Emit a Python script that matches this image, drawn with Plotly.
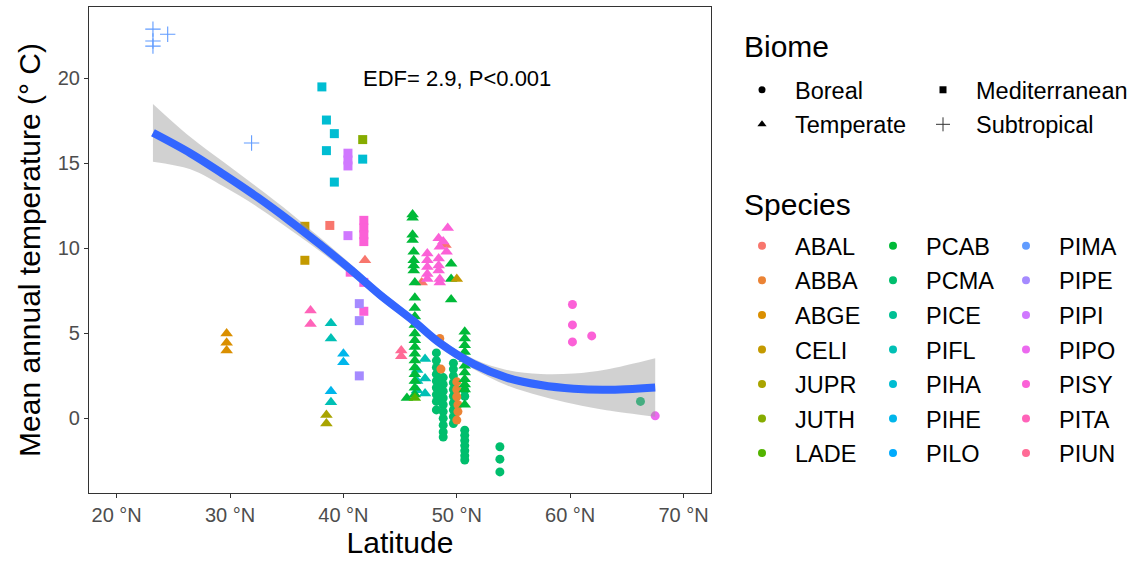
import math
import plotly.graph_objects as go

# ---------------- data ----------------
SPECIES = ["ABAL", "ABBA", "ABGE", "CELI", "JUPR", "JUTH", "LADE",
           "PCAB", "PCMA", "PICE", "PIFL", "PIHA", "PIHE", "PILO",
           "PIMA", "PIPE", "PIPI", "PIPO", "PISY", "PITA", "PIUN"]
BIOMES = ["Boreal", "Mediterranean", "Temperate", "Subtropical"]

# Subtropical
PIMA_sub_lat = [23.2, 23.2, 23.2, 24.5, 31.9]
PIMA_sub_temp = [22.9, 22.2, 21.9, 22.6, 16.2]

# Mediterranean
PIHA_med_lat = [38.1, 38.5, 39.2, 38.5, 41.7, 39.2]
PIHA_med_temp = [19.5, 17.55, 16.75, 15.75, 15.25, 13.9]
JUTH_med_lat = [41.7]
JUTH_med_temp = [16.4]
PIPI_med_lat = [40.4, 40.4, 40.4, 40.4]
PIPI_med_temp = [15.6, 15.2, 14.85, 10.75]
CELI_med_lat = [36.6, 36.6]
CELI_med_temp = [11.3, 9.3]
ABAL_med_lat = [38.8]
ABAL_med_temp = [11.35]
PISY_med_lat = [41.8, 41.8, 41.8, 41.8, 40.6, 41.8, 41.8]
PISY_med_temp = [11.65, 11.2, 10.8, 10.4, 8.6, 8.0, 6.3]
PIPE_med_lat = [41.4, 41.4, 41.4]
PIPE_med_temp = [6.75, 5.75, 2.5]

# Temperate
ABGE_tem_lat = [29.7, 29.7, 29.7]
ABGE_tem_temp = [5.0, 4.45, 4.0]
PITA_tem_lat = [37.1, 37.1]
PITA_tem_temp = [6.35, 5.55]
PIFL_tem_lat = [38.9, 38.9, 38.9, 47.2, 47.2, 47.2, 46.5, 46.5, 46.5]
PIFL_tem_temp = [5.6, 4.7, 0.95, 3.5, 2.35, 1.47, 2.84, 2.2, 1.66]
PIHE_tem_lat = [40.0, 40.0, 38.9]
PIHE_tem_temp = [3.8, 3.3, 1.6]
JUPR_tem_lat = [38.5, 38.5]
JUPR_tem_temp = [0.2, -0.3]
ABAL_tem_lat = [41.9, 46.9, 49.0]
ABAL_tem_temp = [9.3, 8.0, 10.2]
PCAB_tem_lat = [46.1, 46.1, 46.1, 46.1, 46.2, 46.2, 46.2, 46.2, 46.3, 46.3,
                46.3, 46.3, 46.3, 46.3, 46.3, 46.3, 46.3, 46.3, 46.3, 46.3,
                46.3, 46.3, 46.3, 45.6,
                49.5, 49.5, 49.5,
                50.7, 50.7, 50.7, 50.7, 50.7, 50.7, 50.7, 50.7, 50.7, 50.7, 50.7]
PCAB_tem_temp = [12.0, 11.8, 10.8, 10.5, 9.8, 9.3, 9.0, 8.7, 8.0, 7.1,
                 6.5, 6.0, 5.5, 5.0, 4.6, 4.2, 3.8, 3.4, 3.0, 2.6,
                 2.2, 1.8, 1.4, 1.2,
                 9.1, 8.2, 7.0,
                 5.1, 4.7, 4.3, 3.9, 3.5, 3.1, 2.7, 2.3, 2.0, 1.7, 0.8]
PISY_tem_lat = [49.2, 48.4, 48.8, 48.5, 49.1, 47.4, 47.4, 47.4, 47.4,
                48.4, 48.4, 48.4, 48.5, 48.5, 47.4]
PISY_tem_temp = [11.2, 10.6, 10.4, 10.1, 9.8, 9.7, 9.3, 8.9, 8.5,
                 9.4, 9.0, 8.7, 8.2, 8.0, 8.2]
CELI_tem_lat = [50.0]
CELI_tem_temp = [8.2]
PIUN_tem_lat = [45.1, 45.1]
PIUN_tem_temp = [4.0, 3.65]
LADE_tem_lat = [46.3]
LADE_tem_temp = [1.2]

# Boreal
PCMA_bor_lat = [48.2] * 9 + [48.8] * 10 + [49.7] * 10 + [50.7] * 9 + [53.8] * 3 + [66.2]
PCMA_bor_temp = [3.85, 3.4, 3.0, 2.6, 2.2, 1.8, 1.4, 1.0, 0.5,
                 2.4, 2.0, 1.6, 1.2, 0.8, 0.4, 0.0, -0.4, -0.8, -1.1,
                 3.25, 2.9, 2.5, 2.1, 1.7, 1.3, 0.9, 0.5, 0.1, -0.3,
                 1.66, 1.3, -0.7, -1.0, -1.3, -1.6, -1.9, -2.2, -2.45,
                 -1.67, -2.4, -3.15,
                 1.0]
ABBA_bor_lat = [48.5, 48.6, 50.0, 50.0, 50.0, 50.1, 50.1, 50.0]
ABBA_bor_temp = [4.7, 2.9, 2.15, 1.7, 1.27, 0.8, 0.4, -0.1]
PISY_bor_lat = [60.2, 60.2, 60.2, 61.9]
PISY_bor_temp = [6.7, 5.5, 4.5, 4.85]
PIPO_bor_lat = [67.5]
PIPO_bor_temp = [0.15]

# GAM smoother (fit and 95% band half-width)
smooth_lat = [23.2, 26.5, 29.4, 32.4, 35.3, 37.9, 40.6, 43.2, 46.2, 48.5,
              51.5, 54.4, 57.4, 60.3, 63.2, 67.5]
smooth_fit = [16.8, 15.6, 14.37, 13.02, 11.6, 10.25, 8.78, 7.28, 5.72, 4.43,
              3.19, 2.4, 1.96, 1.74, 1.68, 1.82]
smooth_se = [1.7, 0.95, 0.72, 0.58, 0.5, 0.4, 0.32, 0.28, 0.27, 0.28,
             0.3, 0.45, 0.65, 0.9, 1.2, 1.72]

x_ticks = [20, 30, 40, 50, 60, 70]
x_ticktext = ["20 °N", "30 °N", "40 °N", "50 °N", "60 °N", "70 °N"]
y_ticks = [0, 5, 10, 15, 20]
annot_text = "EDF= 2.9, P<0.001"

groups = [
    ("PCMA", "Boreal", PCMA_bor_lat, PCMA_bor_temp),
    ("ABBA", "Boreal", ABBA_bor_lat, ABBA_bor_temp),
    ("PISY", "Boreal", PISY_bor_lat, PISY_bor_temp),
    ("PIPO", "Boreal", PIPO_bor_lat, PIPO_bor_temp),
    ("ABGE", "Temperate", ABGE_tem_lat, ABGE_tem_temp),
    ("PITA", "Temperate", PITA_tem_lat, PITA_tem_temp),
    ("PIFL", "Temperate", PIFL_tem_lat, PIFL_tem_temp),
    ("PIHE", "Temperate", PIHE_tem_lat, PIHE_tem_temp),
    ("JUPR", "Temperate", JUPR_tem_lat, JUPR_tem_temp),
    ("ABAL", "Temperate", ABAL_tem_lat, ABAL_tem_temp),
    ("PCAB", "Temperate", PCAB_tem_lat, PCAB_tem_temp),
    ("PISY", "Temperate", PISY_tem_lat, PISY_tem_temp),
    ("CELI", "Temperate", CELI_tem_lat, CELI_tem_temp),
    ("PIUN", "Temperate", PIUN_tem_lat, PIUN_tem_temp),
    ("LADE", "Temperate", LADE_tem_lat, LADE_tem_temp),
    ("PIHA", "Mediterranean", PIHA_med_lat, PIHA_med_temp),
    ("JUTH", "Mediterranean", JUTH_med_lat, JUTH_med_temp),
    ("PIPI", "Mediterranean", PIPI_med_lat, PIPI_med_temp),
    ("CELI", "Mediterranean", CELI_med_lat, CELI_med_temp),
    ("ABAL", "Mediterranean", ABAL_med_lat, ABAL_med_temp),
    ("PISY", "Mediterranean", PISY_med_lat, PISY_med_temp),
    ("PIPE", "Mediterranean", PIPE_med_lat, PIPE_med_temp),
    ("PIMA", "Subtropical", PIMA_sub_lat, PIMA_sub_temp),
]


# ---------------- colours (ggplot2 hue palette) ----------------
def hcl_hex(h, c=100.0, l=65.0):
    hr = math.radians(h)
    U = c * math.cos(hr)
    V = c * math.sin(hr)
    Xn, Yn, Zn = 95.047, 100.0, 108.883
    Y = Yn * ((l + 16) / 116) ** 3 if l > 7.999592 else Yn * l / 903.3
    t = Xn + Yn + Zn
    x = Xn / t
    y = Yn / t
    uN = 2 * x / (6 * y - x + 1.5)
    vN = 4.5 * y / (6 * y - x + 1.5)
    u = U / (13 * l) + uN
    v = V / (13 * l) + vN
    X = 9.0 * Y * u / (4 * v)
    Z = -X / 3 - 5 * Y + 3 * Y / v
    X, Y, Z = X / 100, Y / 100, Z / 100
    r = 3.240479 * X - 1.537150 * Y - 0.498535 * Z
    g = -0.969256 * X + 1.875992 * Y + 0.041556 * Z
    b = 0.055648 * X - 0.204043 * Y + 1.057311 * Z

    def gam(val):
        val = 12.92 * val if val <= 0.0031308 else 1.055 * val ** (1 / 2.4) - 0.055
        return int(round(min(max(val, 0.0), 1.0) * 255))
    return "#{:02X}{:02X}{:02X}".format(gam(r), gam(g), gam(b))


n = len(SPECIES)
COLORS = {sp: hcl_hex(15 + i * 360.0 / n) for i, sp in enumerate(SPECIES)}

SYMBOL = {"Boreal": "circle", "Mediterranean": "square",
          "Temperate": "triangle-up", "Subtropical": "cross-thin"}
SIZE = {"Boreal": 9, "Mediterranean": 9, "Temperate": 11, "Subtropical": 11}

FONT = "Liberation Sans, Arial, sans-serif"

fig = go.Figure()

for sp, bi, la, te in groups:
    col = COLORS[sp]
    if bi == "Subtropical":
        mk = dict(symbol=SYMBOL[bi], size=SIZE[bi], color=col,
                  line=dict(color=col, width=1.1))
    else:
        mk = dict(symbol=SYMBOL[bi], size=SIZE[bi], color=col, line=dict(width=0))
    fig.add_trace(go.Scatter(x=la, y=te, mode="markers", marker=mk,
                             showlegend=False, hoverinfo="skip"))

lower = [f - s for f, s in zip(smooth_fit, smooth_se)]
upper = [f + s for f, s in zip(smooth_fit, smooth_se)]
fig.add_trace(go.Scatter(x=smooth_lat, y=lower, mode="lines",
                         line=dict(width=0, shape="spline"),
                         showlegend=False, hoverinfo="skip"))
fig.add_trace(go.Scatter(x=smooth_lat, y=upper, mode="lines", fill="tonexty",
                         fillcolor="rgba(153,153,153,0.45)",
                         line=dict(width=0, shape="spline"),
                         showlegend=False, hoverinfo="skip"))
fig.add_trace(go.Scatter(x=smooth_lat, y=smooth_fit, mode="lines",
                         line=dict(color="#3366FF", width=8, shape="spline",
                                   smoothing=1.0),
                         showlegend=False, hoverinfo="skip"))

# ---------------- legends ----------------
biome_cols = [["Boreal", "Temperate"], ["Mediterranean", "Subtropical"]]
biome_legends = ["legend", "legend2"]
for names, lg in zip(biome_cols, biome_legends):
    for nm in names:
        if nm == "Subtropical":
            mk = dict(symbol="cross-thin", size=10, color="#333333",
                      line=dict(color="#333333", width=1))
        else:
            mk = dict(symbol=SYMBOL[nm], size=7 if nm != "Temperate" else 8,
                      color="black", line=dict(width=0))
        fig.add_trace(go.Scatter(x=[None], y=[None], mode="markers", marker=mk,
                                 name=nm, legend=lg, legendgroup=lg + nm,
                                 showlegend=True, hoverinfo="skip"))

species_legends = ["legend3", "legend4", "legend5"]
for ci, lg in enumerate(species_legends):
    for sp in SPECIES[ci * 7:(ci + 1) * 7]:
        fig.add_trace(go.Scatter(x=[None], y=[None], mode="markers",
                                 marker=dict(symbol="circle", size=8,
                                             color=COLORS[sp], line=dict(width=0)),
                                 name=sp, legend=lg, legendgroup=lg + sp,
                                 showlegend=True, hoverinfo="skip"))

W, H = 1137, 562
L, R, T, B = 89, 711, 7, 493


def px_x(p):
    return (p - L) / (R - L)


def px_y(p):
    return (B - p) / (B - T)


leg_common = dict(xanchor="left", yanchor="top", bgcolor="rgba(0,0,0,0)",
                  borderwidth=0, itemwidth=56, tracegroupgap=1,
                  font=dict(family=FONT, size=23.5, color="black"))
legend_pos = {
    "legend": (729, 68), "legend2": (910, 68),
    "legend3": (729, 224), "legend4": (860, 224), "legend5": (993, 224),
}
layout_legends = {}
for lg, (lx, ly) in legend_pos.items():
    d = dict(leg_common)
    d.update(x=px_x(lx), y=px_y(ly))
    layout_legends[lg] = d

fig.update_layout(
    width=W, height=H,
    margin=dict(l=L, r=W - R, t=T, b=H - B, autoexpand=False),
    plot_bgcolor="white", paper_bgcolor="white",
    font=dict(family=FONT, color="black"),
    **layout_legends,
)

axis_common = dict(showgrid=False, zeroline=False, showline=True, mirror=True,
                   linecolor="#333333", linewidth=1.1, ticks="outside",
                   ticklen=4, tickwidth=1.1, tickcolor="#333333",
                   tickfont=dict(family=FONT, size=20, color="#4D4D4D"))

fig.update_xaxes(range=[17.56, 72.42], tickvals=x_ticks, ticktext=x_ticktext,
                 title=dict(text="Latitude", font=dict(family=FONT, size=30),
                            standoff=4),
                 **axis_common)
fig.update_yaxes(range=[-4.39, 24.2], tickvals=y_ticks,
                 title=dict(text="Mean annual temperature (° C)",
                            font=dict(family=FONT, size=30), standoff=8),
                 **axis_common)

fig.add_annotation(x=50, y=20, xref="x", yref="y", text=annot_text,
                   showarrow=False, font=dict(family=FONT, size=22, color="black"))
fig.add_annotation(x=px_x(742), y=px_y(46), xref="paper", yref="paper",
                   text="Biome", showarrow=False, xanchor="left", yanchor="middle",
                   font=dict(family=FONT, size=30, color="black"))
fig.add_annotation(x=px_x(742), y=px_y(204), xref="paper", yref="paper",
                   text="Species", showarrow=False, xanchor="left", yanchor="middle",
                   font=dict(family=FONT, size=30, color="black"))

fig.write_html("out.html")
